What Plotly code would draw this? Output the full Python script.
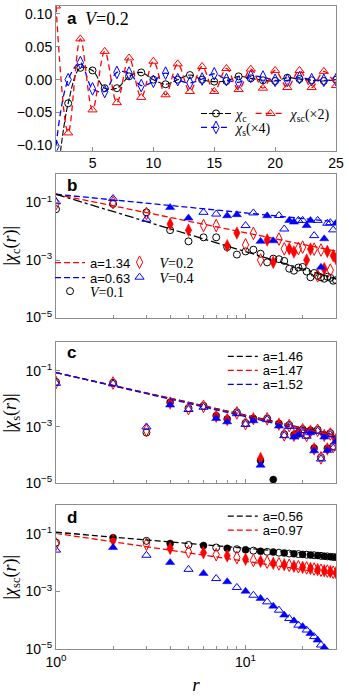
import numpy as np
import plotly.graph_objects as go

# ---- panel a: V = 0.2, signed correlations vs r ----
r_a = list(range(2, 26))
chi_c_a = [-0.17, -0.036, 0.018, 0.014, -0.013, -0.013, 0.005, 0.011, 0.000, -0.007, 0.000, 0.007,
           0.000, -0.003, -0.002, 0.005, 0.002, -0.001, -0.002, 0.003, 0.001, -0.001, -0.002, 0.000]
chi_s_x4_a = [-0.101, 0.000, 0.026, -0.014, -0.018, 0.011, 0.010, -0.009, -0.0025, 0.010, 0.000, -0.005,
              0.001, 0.009, 0.000, -0.004, 0.005, 0.004, -0.001, -0.001, 0.003, 0.000, -0.001, 0.000]
chi_sc_x2_a = [0.112, -0.081, 0.062, -0.046, 0.043, -0.035, 0.033, -0.027, 0.028, -0.023, 0.024, -0.018,
               0.020, -0.018, 0.017, -0.015, 0.016, -0.013, 0.014, -0.012, 0.014, -0.012, 0.0126, -0.009]

# ---- panels b-d: log10 |chi(r)|, sign (+1 open marker, -1 filled marker) ----
r_log = list(range(1, 31))

b_v01 = [-1.23, -1.05, -1.34, -1.96, -2.35, -2.21, -2.21, -2.55, -2.81, -2.70, -2.64, -2.78, -3.08, -2.95, -2.97,
         -3.03, -3.30, -3.37, -3.26, -3.24, -3.40, -3.60, -3.45, -3.55, -3.60, -3.65, -3.58, -3.62, -3.72, -3.70]
b_v01_sign = [1] * 30
b_v02 = [-1.04, -1.00, -1.38, -1.75, -1.96, -1.80, -1.80, -2.50, -2.06, -2.47, -2.07, -3.00, -2.30, -3.08, -2.27,
         -2.61, -2.61, -2.72, -2.60, -2.55, -3.00, -2.62, -2.62, -3.55, -2.65, -3.30, -2.70, -3.35, -2.85, -2.95]
b_v02_sign = [1, 1, 1, -1, -1, 1, 1, -1, -1, 1, 1, 1, -1, -1, 1, 1, -1, -1, 1, 1, -1, -1, 1, 1, 1, -1, -1, 1, -1, -1]
b_v04 = [-0.97, -0.86, -1.58, -1.17, -1.54, -1.34, -1.40, -1.46, -1.42, -1.80, -1.36, -2.35, -1.46, -2.33, -1.45,
         -1.92, -1.62, -1.68, -1.62, -1.62, -1.80, -1.62, -2.15, -1.62, -3.25, -2.26, -1.72, -1.70, -1.95, -1.72]
b_v04_sign = [1, 1, 1, -1, -1, 1, 1, -1, -1, 1, 1, -1, -1, -1, 1, 1, -1, -1, 1, 1, -1, -1, 1, 1, -1, -1, 1, 1, 1, -1]

c_sign = [1, 1, 1, -1, 1, 1, -1, -1, 1, 1, -1, -1, 1, -1, -1, 1, 1, -1, -1, 1, 1, -1, -1, 1, 1, -1, -1, 1, 1, -1]
c_v01 = [-1.40, -1.43, -3.20, -2.12, -2.33, -2.25, -2.60, -2.72, -2.48, -2.86, -2.70, -4.20, -2.70, -4.87, -2.88,
         -3.26, -2.93, -3.28, -3.20, -3.08, -3.28, -3.12, -3.75, -3.10, -4.08, -3.28, -3.76, -3.22, -3.68, -3.42]
c_v02 = [-1.42, -1.44, -3.12, -2.15, -2.35, -2.27, -2.62, -2.74, -2.50, -2.88, -2.71, -4.12, -2.71, -5.40, -2.90,
         -3.28, -2.95, -3.30, -3.22, -3.10, -3.30, -3.15, -3.78, -3.12, -4.10, -3.30, -3.78, -3.25, -3.70, -3.45]
c_v04 = [-1.45, -1.47, -3.00, -2.22, -2.38, -2.30, -2.70, -2.82, -2.53, -2.91, -2.78, -4.36, -2.74, -5.60, -2.97,
         -3.31, -2.98, -3.36, -3.29, -3.13, -3.33, -3.21, -3.85, -3.15, -4.14, -3.36, -3.84, -3.28, -3.75, -3.52]

d_sign = [1, -1] * 15
d_v01 = [-1.30, -1.13, -1.24, -1.33, -1.38, -1.40, -1.47, -1.50, -1.53, -1.55, -1.58, -1.60, -1.62, -1.63, -1.65,
         -1.66, -1.68, -1.69, -1.70, -1.71, -1.72, -1.73, -1.74, -1.75, -1.76, -1.77, -1.78, -1.79, -1.80, -1.81]
d_v02 = [-1.35, -1.22, -1.36, -1.50, -1.62, -1.65, -1.72, -1.76, -1.82, -1.88, -1.92, -1.95, -1.98, -2.02, -2.04,
         -2.07, -2.09, -2.12, -2.14, -2.16, -2.18, -2.20, -2.22, -2.24, -2.26, -2.28, -2.29, -2.31, -2.33, -2.35]
d_v04 = [-1.56, -1.47, -1.74, -1.99, -2.23, -2.37, -2.55, -2.66, -2.86, -2.99, -3.13, -3.24, -3.36, -3.51, -3.65,
         -3.82, -3.94, -4.02, -4.17, -4.22, -4.34, -4.46, -4.57, -4.69, -4.86, -4.95, -5.10, -5.22, -5.35, -5.50]

# power-law fits: endpoints (r = 1 and r = 30) in log10 units
fit_r = [1, 30]
fit_b = {'a=1.34': [-0.71, -2.69], 'a=0.63': [-0.71, -1.67], 'V=0.1 fit': [-0.71, -3.66]}
fit_c = {'a=1.46': [-1.07, -3.30], 'a=1.47': [-1.07, -3.32], 'a=1.52': [-1.07, -3.38]}
fit_d = {'a=0.56': [-0.94, -1.76], 'a=0.97': [-0.98, -2.41]}

BLACK, RED, BLUE = '#000000', '#ff0000', '#0000ff'
GRAY = '#8c8c8c'
SANS = 'Liberation Sans'
SERIF = 'Liberation Serif'
FIT_DASH = '6px,3px'

fig = go.Figure()


def add_signed(xa, ya, logs, signs, color, sym, size, name, legend, showlegend):
    r = np.array(r_log)
    mag = 10 ** np.array(logs)
    s = np.array(signs)
    fig.add_trace(go.Scatter(x=r[s > 0], y=mag[s > 0], mode='markers', name=name,
                             marker=dict(symbol=sym + '-open', size=size, color=color, line=dict(width=1, color=color)),
                             xaxis=xa, yaxis=ya, legend=legend, showlegend=showlegend))
    fig.add_trace(go.Scatter(x=r[s < 0], y=mag[s < 0], mode='markers', name=name,
                             marker=dict(symbol=sym, size=size, color=color, line=dict(width=0.5, color=color)),
                             xaxis=xa, yaxis=ya, legend=legend, showlegend=False))


def add_fit(xa, ya, vals, color, dash, name, legend, showlegend=True):
    fig.add_trace(go.Scatter(x=fit_r, y=10 ** np.array(vals), mode='lines', name=name,
                             line=dict(color=color, dash=dash, width=1.3),
                             xaxis=xa, yaxis=ya, legend=legend, showlegend=showlegend))


# panel a
fig.add_trace(go.Scatter(x=r_a, y=chi_c_a, mode='lines+markers', name='<i>χ</i><sub>c</sub>',
                         line=dict(color=BLACK, dash='6px,2px', width=1.1, shape='spline'),
                         marker=dict(symbol='circle-open', size=7, color=BLACK, line=dict(width=1)),
                         xaxis='x', yaxis='y', legend='legend'))
fig.add_trace(go.Scatter(x=r_a, y=chi_s_x4_a, mode='lines+markers', name='<i>χ</i><sub>s</sub>(×4)',
                         line=dict(color=BLUE, dash='6px,4px', width=1.3, shape='spline'),
                         marker=dict(symbol='diamond-tall-open', size=9, color=BLUE, line=dict(width=1)),
                         xaxis='x', yaxis='y', legend='legend2'))
fig.add_trace(go.Scatter(x=r_a, y=chi_sc_x2_a, mode='lines+markers', name='<i>χ</i><sub>sc</sub>(×2)',
                         line=dict(color=RED, dash='6px,4px', width=1.3, shape='spline'),
                         marker=dict(symbol='triangle-up-open', size=8, color=RED, line=dict(width=1)),
                         xaxis='x', yaxis='y', legend='legend3'))

# panel b
add_fit('x2', 'y2', fit_b['a=1.34'], RED, FIT_DASH, 'a=1.34', 'legend4')
add_fit('x2', 'y2', fit_b['a=0.63'], BLUE, FIT_DASH, 'a=0.63', 'legend5')
add_fit('x2', 'y2', fit_b['V=0.1 fit'], BLACK, 'dashdot', 'fit', 'legend4', showlegend=False)
add_signed('x2', 'y2', b_v01, b_v01_sign, BLACK, 'circle', 7, '<i>V</i>=0.1', 'legend6', True)
add_signed('x2', 'y2', b_v02, b_v02_sign, RED, 'diamond-tall', 9, '<i>V</i>=0.2', 'legend7', True)
add_signed('x2', 'y2', b_v04, b_v04_sign, BLUE, 'triangle-up', 8, '<i>V</i>=0.4', 'legend8', True)

# panel c
add_signed('x3', 'y3', c_v01, c_sign, BLACK, 'circle', 7, 'V=0.1', 'legend9', False)
add_signed('x3', 'y3', c_v02, c_sign, RED, 'diamond-tall', 9, 'V=0.2', 'legend9', False)
add_signed('x3', 'y3', c_v04, c_sign, BLUE, 'triangle-up', 8, 'V=0.4', 'legend9', False)
for (name, vals), col, lg in zip(fit_c.items(), [BLACK, RED, BLUE], ['legend9', 'legend10', 'legend11']):
    add_fit('x3', 'y3', vals, col, FIT_DASH, name, lg)

# panel d
add_signed('x4', 'y4', d_v01, d_sign, BLACK, 'circle', 7, 'V=0.1', 'legend12', False)
add_signed('x4', 'y4', d_v02, d_sign, RED, 'diamond-tall', 9, 'V=0.2', 'legend12', False)
add_signed('x4', 'y4', d_v04, d_sign, BLUE, 'triangle-up', 8, 'V=0.4', 'legend12', False)
for (name, vals), col, lg in zip(fit_d.items(), [BLACK, RED], ['legend12', 'legend13']):
    add_fit('x4', 'y4', vals, col, FIT_DASH, name, lg)

axis_style = dict(showline=True, linecolor=GRAY, linewidth=1, mirror=True, ticks='inside', ticklen=4,
                  tickcolor=GRAY, showgrid=False, zeroline=False,
                  tickfont=dict(family=SANS, size=14, color='black'))

log_x = dict(type='log', range=[0, np.log10(30)], tickvals=[1, 10],
             minor=dict(tickmode='array', tickvals=[2, 3, 4, 5, 6, 7, 8, 9, 20], ticks='inside',
                        ticklen=3, tickcolor=GRAY), **axis_style)
log_y = dict(type='log', range=[-5, 0], tickvals=[1e-5, 1e-3, 1e-1],
             ticktext=['10<sup>−5</sup>', '10<sup>−3</sup>', '10<sup>−1</sup>'], **axis_style)

title_font = dict(family=SERIF, size=18, color='black')

fig.update_layout(
    width=349, height=698, margin=dict(l=56, r=11, t=5, b=49),
    plot_bgcolor='white', paper_bgcolor='white',
    xaxis=dict(domain=[0, 1], anchor='y', range=[2, 25], tickvals=[5, 10, 15, 20, 25], **axis_style),
    yaxis=dict(domain=[0.775, 1], anchor='x', range=[-0.108, 0.112], tickvals=[-0.1, -0.05, 0, 0.05, 0.1],
               tickformat='.2f', **axis_style),
    xaxis2=dict(domain=[0, 1], anchor='y2', showticklabels=False, **log_x),
    yaxis2=dict(domain=[0.5155, 0.739], anchor='x2',
                title=dict(text='|<i>χ</i><sub>c</sub>(<i>r</i>)|', font=title_font, standoff=5), **log_y),
    xaxis3=dict(domain=[0, 1], anchor='y3', showticklabels=False, **log_x),
    yaxis3=dict(domain=[0.2578, 0.4767], anchor='x3',
                title=dict(text='|<i>χ</i><sub>s</sub>(<i>r</i>)|', font=title_font, standoff=5), **log_y),
    xaxis4=dict(domain=[0, 1], anchor='y4', ticktext=['10<sup>0</sup>', '10<sup>1</sup>'],
                title=dict(text='<i>r</i>', font=dict(family=SERIF, size=19, color='black'), standoff=8), **log_x),
    yaxis4=dict(domain=[0, 0.2236], anchor='x4',
                title=dict(text='|<i>χ</i><sub>sc</sub>(<i>r</i>)|', font=title_font, standoff=5), **log_y),
    showlegend=True,
)


def px_x(p):
    return (p - 56) / 282


def px_y(p):
    return (649 - p) / 644


def legend_at(xp, yp, family=SANS, size=13):
    return dict(x=px_x(xp), y=px_y(yp), xanchor='left', yanchor='middle', bgcolor='rgba(0,0,0,0)',
                font=dict(family=family, size=size, color='black'), itemwidth=30, tracegroupgap=0)


fig.update_layout(
    legend=legend_at(197, 113, SERIF, 14),
    legend2=legend_at(197, 127, SERIF, 14),
    legend3=legend_at(252, 113, SERIF, 14),
    legend4=legend_at(50, 262),
    legend5=legend_at(50, 277),
    legend6=legend_at(50, 291, SERIF, 14),
    legend7=legend_at(120, 262, SERIF, 14),
    legend8=legend_at(120, 277, SERIF, 14),
    legend9=legend_at(224, 356),
    legend10=legend_at(224, 370),
    legend11=legend_at(224, 384),
    legend12=legend_at(224, 516),
    legend13=legend_at(224, 530),
)

ann_font = dict(family=SANS, size=17, color='black')
for label, ypix in [('a', 18), ('b', 185), ('c', 352), ('d', 517)]:
    fig.add_annotation(text='<b>%s</b>' % label, xref='paper', yref='paper', x=px_x(72),
                       y=px_y(ypix), showarrow=False, font=ann_font, xanchor='center', yanchor='middle')
fig.add_annotation(text='<i>V</i>=0.2', xref='paper', yref='paper', x=px_x(83), y=px_y(18),
                   showarrow=False, font=dict(family=SERIF, size=18, color='black'), xanchor='left', yanchor='middle')

# the page body keeps a default 8px margin; drop it so the figure sits at the window origin
fig.write_html("out.html", config={'displayModeBar': False},
               post_script="document.body.style.margin='0';")
